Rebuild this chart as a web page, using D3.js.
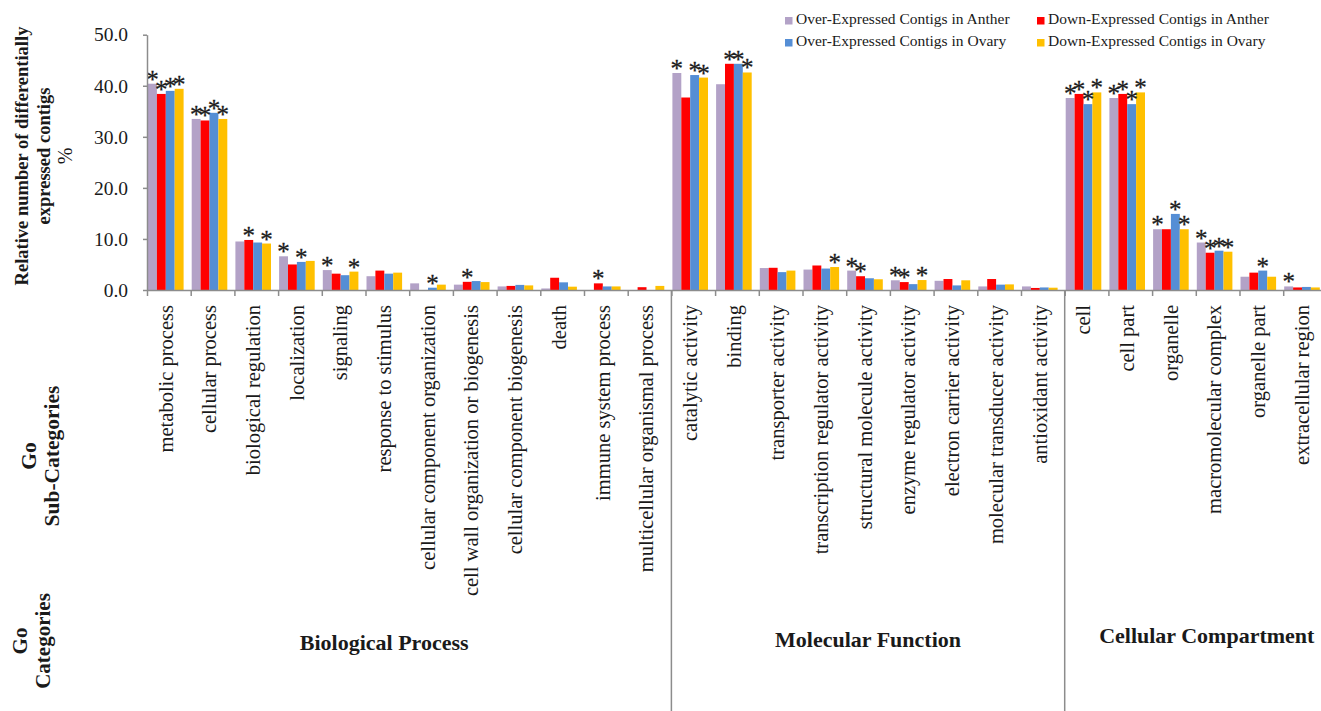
<!DOCTYPE html>
<html>
<head>
<meta charset="utf-8">
<script src="https://cdn.jsdelivr.net/npm/d3@7"></script>
<style>
  body { margin: 0; background: #fff; }
  svg { display: block; font-family: "Liberation Serif", "Times New Roman", serif; }
</style>
</head>
<body>
<svg id="chart"></svg>
<script>
// GO sub-categories, in plot order
const categories = [
    "metabolic process", "cellular process", "biological regulation", "localization",
    "signaling", "response to stimulus", "cellular component organization",
    "cell wall organization or biogenesis", "cellular component biogenesis", "death",
    "immune system process", "multicellular organismal process",
    "catalytic activity", "binding", "transporter activity", "transcription regulator activity",
    "structural molecule activity", "enzyme regulator activity", "electron carrier activity",
    "molecular transducer activity", "antioxidant activity",
    "cell", "cell part", "organelle", "macromolecular complex", "organelle part", "extracellular region"
];
const groupNames = ["Biological Process", "Molecular Function", "Cellular Compartment"];
const groupSizes = [12, 9, 6];

const seriesNames = [
    "Over-Expressed Contigs in Anther", "Down-Expressed Contigs in Anther",
    "Over-Expressed Contigs in Ovary", "Down-Expressed Contigs in Ovary"
];

// values in %
const overAnther = [40.4, 33.5, 9.5, 6.6, 3.9, 2.7, 1.3, 1.05, 0.7, 0.3, 0.0, 0.0,
                    42.5, 40.3, 4.3, 4.0, 3.8, 1.9, 1.8, 0.7, 0.7,
                    37.6, 37.6, 11.9, 9.3, 2.6, 0.7];
const downAnther = [38.4, 33.2, 9.8, 5.0, 3.2, 3.8, 0.0, 1.6, 0.8, 2.4, 1.3, 0.55,
                    37.7, 44.3, 4.35, 4.8, 2.7, 1.55, 2.15, 2.15, 0.4,
                    38.4, 38.4, 11.9, 7.3, 3.4, 0.5];
const overOvary  = [39.0, 34.7, 9.3, 5.5, 2.9, 3.2, 0.45, 1.75, 1.0, 1.5, 0.7, 0.0,
                    42.1, 44.3, 3.5, 4.2, 2.3, 1.15, 0.9, 1.05, 0.5,
                    36.4, 36.4, 14.9, 7.7, 3.8, 0.6];
const downOvary  = [39.4, 33.5, 9.1, 5.7, 3.6, 3.4, 1.05, 1.55, 0.9, 0.65, 0.7, 0.8,
                    41.6, 42.6, 3.8, 4.5, 2.1, 1.95, 1.9, 1.1, 0.45,
                    38.7, 38.7, 11.9, 7.5, 2.6, 0.5];

// significance marks (1 = asterisk)
const starOverAnther = [1,1,0,1,1,0,0,0,0,0,0,0, 1,0,0,0,1,1,0,0,0, 1,1,1,1,0,1];
const starDownAnther = [1,1,1,0,0,0,0,1,0,0,1,0, 0,1,0,0,1,1,0,0,0, 1,1,0,1,0,0];
const starOverOvary  = [1,1,0,1,0,0,1,0,0,0,0,0, 1,1,0,0,0,0,0,0,0, 1,1,1,1,1,0];
const starDownOvary  = [1,1,1,0,1,0,0,0,0,0,0,0, 1,1,0,1,0,1,0,0,0, 1,1,1,1,0,0];

const yTicks = [0, 10, 20, 30, 40, 50];

const series = [overAnther, downAnther, overOvary, downOvary];
const stars = [starOverAnther, starDownAnther, starOverOvary, starDownOvary];
const colors = ["#B3A2C7", "#FF0000", "#558ED5", "#FFC000"];

const width = 1321, height = 711;
const svg = d3.select("#chart").attr("width", width).attr("height", height);

const left = 147, step = 43.7;
const x = d3.scaleBand().domain(categories).range([left, left + step * categories.length]);
const xEdge = d3.scaleLinear().domain([0, categories.length]).range(x.range());
const xSub = d3.scaleBand().domain(d3.range(series.length)).range([1, 36.6]);
const y = d3.scaleLinear().domain([0, 50]).range([290, 34.7]);

const axisColor = "#8c8c8c";
const textColor = "#1a1a1a";

// bars
series.forEach((vals, s) => {
    svg.append("g").selectAll("rect")
        .data(vals)
        .join("rect")
        .attr("x", (d, i) => x(categories[i]) + xSub(s))
        .attr("y", d => y(d))
        .attr("width", xSub.bandwidth())
        .attr("height", d => y(0) - y(d))
        .attr("fill", colors[s]);
});

// asterisks
series.forEach((vals, s) => {
    const idx = d3.range(vals.length).filter(i => stars[s][i]);
    svg.append("g").selectAll("text")
        .data(idx)
        .join("text")
        .attr("x", i => x(categories[i]) + xSub(s) + xSub.bandwidth() / 2)
        .attr("y", i => y(vals[i]) + 4)
        .attr("text-anchor", "middle")
        .attr("font-size", 25)
        .attr("fill", textColor)
        .attr("stroke", textColor)
        .attr("stroke-width", 0.3)
        .text("*");
});

// y axis
const gY = svg.append("g")
    .attr("transform", `translate(${left},0)`)
    .call(d3.axisLeft(y).tickValues(yTicks).tickFormat(d3.format(".1f"))
        .tickSize(4).tickSizeOuter(0).tickPadding(15));
gY.selectAll("path, line").attr("stroke", axisColor).attr("stroke-width", 1.5);
gY.selectAll("text").attr("font-size", 19.5).attr("font-family", "Liberation Serif").attr("fill", textColor);

// x axis (ticks at category edges)
const gX = svg.append("g")
    .attr("transform", `translate(0,${y(0)})`)
    .call(d3.axisBottom(xEdge).tickValues(d3.range(categories.length + 1)).tickFormat("")
        .tickSize(6).tickSizeOuter(0));
gX.selectAll("path, line").attr("stroke", axisColor).attr("stroke-width", 1.5);

// category labels
const barMid = (xSub(0) + xSub(series.length - 1) + xSub.bandwidth()) / 2;
svg.append("g").selectAll("text")
    .data(categories)
    .join("text")
    .attr("transform", d => `translate(${x(d) + barMid},305) rotate(-90)`)
    .attr("dy", "0.33em")
    .attr("text-anchor", "end")
    .attr("font-size", 20.5)
    .attr("fill", textColor)
    .text(d => d);

// group separators and names
const edges = d3.cumsum(groupSizes);
svg.append("g").selectAll("line")
    .data(edges.slice(0, -1))
    .join("line")
    .attr("x1", d => xEdge(d)).attr("x2", d => xEdge(d))
    .attr("y1", y(0)).attr("y2", height)
    .attr("stroke", axisColor).attr("stroke-width", 1.5);

const groupShift = [-25, 0, 11];
const groupBase = [650, 647, 643];
svg.append("g").selectAll("text")
    .data(groupNames)
    .join("text")
    .attr("x", (d, i) => (xEdge(i ? edges[i - 1] : 0) + xEdge(edges[i])) / 2 + groupShift[i])
    .attr("y", (d, i) => groupBase[i])
    .attr("text-anchor", "middle")
    .attr("font-size", 22)
    .attr("font-weight", "bold")
    .attr("fill", textColor)
    .text(d => d);

// left side titles
function vtitle(lines, cx, cy, size, weights) {
    lines.forEach((t, k) => {
        svg.append("text")
            .attr("transform", `translate(${cx[k]},${cy}) rotate(-90)`)
            .attr("dy", "0.35em")
            .attr("text-anchor", "middle")
            .attr("font-size", size[k])
            .attr("font-weight", weights[k])
            .attr("fill", textColor)
            .text(t);
    });
}
vtitle(["Relative number of differentially", "expressed contigs", "%"],
       [22, 44, 65], 156, [18.5, 18.5, 20], ["bold", "bold", "normal"]);
vtitle(["Go", "Sub-Categories"], [28, 51], 456, [21.5, 21.5], ["bold", "bold"]);
vtitle(["Go", "Categories"], [20, 43], 641, [21, 21], ["bold", "bold"]);

// legend
const legendPos = [[785, 24], [1037, 24], [785, 46], [1037, 46]];
const lg = svg.append("g").selectAll("g")
    .data(seriesNames)
    .join("g")
    .attr("transform", (d, i) => `translate(${legendPos[i][0]},${legendPos[i][1]})`);
lg.append("rect")
    .attr("x", 0).attr("y", -7).attr("width", 7.5).attr("height", 7.5)
    .attr("fill", (d, i) => colors[i]);
lg.append("text")
    .attr("x", 11)
    .attr("font-size", 15.5)
    .attr("fill", textColor)
    .text(d => d);
</script>
</body>
</html>
